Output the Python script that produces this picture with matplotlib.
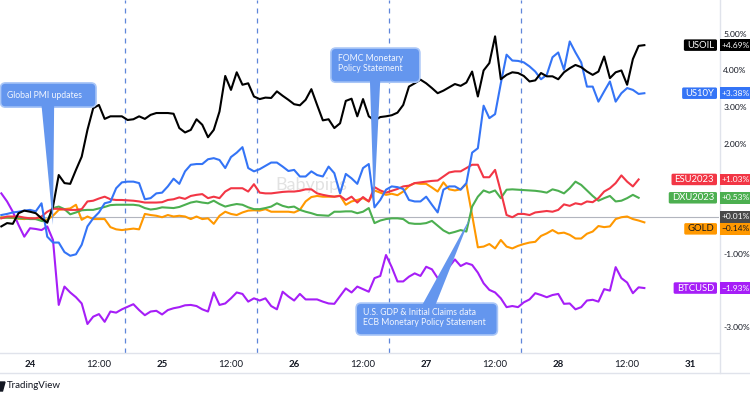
import numpy as np
import matplotlib
matplotlib.use("Agg")
import matplotlib.pyplot as plt
from matplotlib.patches import FancyBboxPatch, Polygon, Rectangle
from matplotlib.transforms import IdentityTransform
from matplotlib.lines import Line2D

plt.rcParams['font.family'] = ['Lato', 'DejaVu Sans']

# ---------------- data ----------------
# hourly bar index (0 = Jul 24 00:00, 23 bars per trading day)
bars = list(range(-5, 108))

usoil = [-0.25, -0.16, -0.18, 0.11, 0.18, 0.15, 0.11, -0.03, -0.15, 0.29,
         1.15, 0.93, 0.91, 1.29, 1.65, 2.38, 2.97, 3.06, 2.68, 2.75,
         2.75, 2.75, 2.65, 2.67, 2.75, 2.68, 2.79, 2.84, 2.84, 2.84,
         2.82, 2.43, 2.31, 2.38, 2.67, 2.52, 2.18, 2.38, 2.88, 3.85,
         3.47, 3.95, 3.61, 3.65, 3.29, 3.22, 3.26, 3.25, 3.43, 3.31,
         3.20, 3.08, 3.05, 3.20, 3.49, 3.06, 2.64, 2.67, 2.43, 2.56,
         3.17, 3.23, 2.75, 3.22, 2.75, 2.64, 2.73, 2.75, 2.78, 2.85,
         3.06, 3.56, 3.65, 3.75, 3.65, 3.52, 3.38, 3.45, 3.54, 3.63,
         3.58, 3.67, 3.97, 3.29, 4.00, 4.20, 4.93, 3.76, 3.88, 3.95,
         3.93, 3.85, 3.70, 3.73, 3.93, 3.84, 3.84, 3.76, 3.95, 4.06,
         4.15, 4.09, 3.97, 3.88, 3.97, 4.38, 3.79, 3.95, 4.00, 3.61,
         4.31, 4.67, 4.69]

us10y = [0.06, 0.09, 0.13, 0.15, 0.18, 0.20, 0.16, 0.38, -0.53, -0.69,
         -0.69, -0.95, -1.05, -1.01, -0.75, -0.25, -0.03, 0.13, 0.38, 0.42,
         0.79, 0.95, 0.97, 0.97, 0.93, 0.49, 0.52, 0.65, 0.67, 0.84,
         1.05, 0.91, 1.25, 1.43, 1.45, 1.45, 1.58, 1.61, 1.56, 1.34,
         1.64, 1.76, 1.91, 1.34, 1.25, 1.31, 1.40, 1.49, 1.49, 1.38,
         1.26, 1.29, 1.11, 1.11, 1.25, 1.15, 1.11, 1.38, 1.20, 0.65,
         1.18, 1.06, 0.91, 1.34, 1.45, 0.27, 0.47, 0.75, 0.84, 0.82,
         0.77, 0.47, 0.43, 0.43, 0.56, 0.34, 0.13, 0.75, 0.84, 0.84,
         0.75, 0.93, 1.76, 1.88, 3.04, 2.70, 2.81, 3.65, 4.43, 4.27,
         4.26, 4.22, 4.11, 3.97, 3.76, 3.88, 4.36, 4.49, 4.02, 4.79,
         4.49, 4.22, 3.56, 3.56, 3.15, 3.43, 3.70, 3.15, 3.38, 3.52,
         3.47, 3.36, 3.38]

esu2023 = [-0.03, 0.02, 0.02, 0.02, -0.01, -0.03, -0.03, 0.02, 0.15, 0.23,
           0.23, 0.21, 0.20, 0.20, 0.22, 0.43, 0.45, 0.51, 0.56, 0.49,
           0.47, 0.47, 0.46, 0.45, 0.43, 0.40, 0.40, 0.40, 0.41, 0.47,
           0.49, 0.54, 0.50, 0.58, 0.61, 0.63, 0.52, 0.56, 0.52, 0.70,
           0.79, 0.79, 0.79, 0.70, 0.90, 0.67, 0.65, 0.65, 0.67, 0.69,
           0.70, 0.70, 0.72, 0.76, 0.76, 0.65, 0.61, 0.58, 0.56, 0.58,
           0.47, 0.56, 0.40, 0.55, 0.43, 0.82, 0.73, 0.67, 0.72, 0.77,
           0.84, 0.86, 0.93, 0.95, 0.97, 0.99, 1.00, 1.11, 1.22, 1.25,
           1.25, 1.34, 1.43, 1.43, 1.09, 1.09, 1.29, 0.70, 0.06, 0.00,
           0.09, 0.09, 0.06, 0.13, 0.15, 0.17, 0.15, 0.20, 0.35, 0.31,
           0.38, 0.35, 0.43, 0.41, 0.52, 0.70, 0.79, 0.93, 1.14, 0.97,
           0.84, 1.03, np.nan]

dxu2023 = [-0.02, -0.01, -0.01, -0.03, -0.03, -0.05, -0.05, -0.10, -0.12, 0.25,
           0.29, 0.22, 0.08, 0.13, 0.19, 0.20, 0.20, 0.24, 0.28, 0.33,
           0.34, 0.34, 0.34, 0.34, 0.32, 0.25, 0.21, 0.23, 0.27, 0.26,
           0.25, 0.28, 0.34, 0.40, 0.43, 0.40, 0.38, 0.45, 0.36, 0.29,
           0.33, 0.36, 0.34, 0.27, 0.22, 0.22, 0.25, 0.29, 0.38, 0.31,
           0.27, 0.29, 0.20, 0.15, 0.11, 0.06, 0.05, 0.04, 0.15, 0.15,
           0.16, 0.16, 0.11, 0.15, 0.25, -0.16, -0.09, -0.05, -0.03, -0.03,
           -0.05, -0.16, -0.18, -0.18, -0.16, -0.10, -0.23, -0.36, -0.44, -0.40,
           -0.35, -0.39, 0.29, 0.56, 0.73, 0.67, 0.73, 0.52, 0.75, 0.76,
           0.75, 0.74, 0.73, 0.72, 0.70, 0.67, 0.76, 0.72, 0.65, 0.79,
           0.97, 0.88, 0.73, 0.58, 0.45, 0.52, 0.58, 0.43, 0.45, 0.52,
           0.61, 0.53, np.nan]

gold = [0.00, -0.01, -0.02, -0.04, -0.05, -0.03, -0.05, -0.05, -0.07, 0.04,
        0.20, 0.22, 0.24, 0.34, -0.07, 0.02, -0.05, -0.05, -0.05, -0.27,
        -0.33, -0.35, -0.33, -0.31, -0.33, 0.09, 0.06, 0.04, 0.00, 0.06,
        0.02, 0.04, 0.02, -0.05, 0.02, -0.05, -0.03, -0.18, 0.04, 0.15,
        0.09, 0.06, 0.13, 0.18, 0.19, 0.18, 0.22, 0.15, 0.15, 0.15,
        0.15, 0.13, 0.20, 0.43, 0.55, 0.58, 0.56, 0.56, 0.56, 0.59,
        0.34, 0.43, 0.47, 0.52, 0.43, 0.73, 0.67, 0.61, 0.64, 0.60,
        0.70, 0.85, 0.93, 0.91, 0.91, 0.81, 0.70, 0.95, 0.76, 0.73,
        0.76, 0.91, 0.06, -0.82, -0.80, -0.73, -0.85, -0.62, -0.80, -0.85,
        -0.78, -0.73, -0.69, -0.67, -0.51, -0.44, -0.35, -0.44, -0.42, -0.48,
        -0.58, -0.58, -0.45, -0.39, -0.24, -0.27, -0.25, -0.05, 0.00, 0.02,
        -0.05, -0.09, -0.14]

btcusd = [0.65, 0.43, 0.15, -0.21, -0.53, -0.30, -0.32, -0.35, -0.25, -0.62,
          -2.39, -1.89, -2.05, -2.18, -2.35, -2.91, -2.71, -2.64, -2.85, -2.57,
          -2.60, -2.51, -2.44, -2.37, -2.53, -2.67, -2.57, -2.55, -2.65, -2.53,
          -2.48, -2.45, -2.40, -2.39, -2.42, -2.51, -2.57, -2.05, -2.39, -2.35,
          -2.21, -2.05, -2.09, -2.30, -2.21, -2.27, -2.21, -2.42, -2.51, -2.03,
          -2.16, -2.27, -2.09, -2.24, -2.24, -2.24, -2.30, -2.35, -2.36, -2.15,
          -1.94, -2.05, -1.89, -1.96, -2.03, -1.66, -1.60, -1.03, -1.36, -1.75,
          -1.75, -1.62, -1.53, -1.60, -1.35, -1.42, -1.66, -1.55, -1.35, -1.15,
          -1.33, -1.25, -1.30, -1.51, -1.80, -1.98, -2.05, -2.21, -2.45, -2.42,
          -2.45, -2.32, -2.24, -2.07, -2.12, -2.18, -2.12, -2.09, -2.36, -2.35,
          -2.51, -2.45, -2.27, -2.25, -2.30, -1.96, -2.00, -1.36, -1.66, -1.78,
          -2.07, -1.91, -1.93]

series_names = ["BTCUSD", "GOLD", "DXU2023", "ESU2023", "US10Y", "USOIL"]
series_values = [btcusd, gold, dxu2023, esu2023, us10y, usoil]

tick_bars = [0, 12, 23, 35, 46, 58, 69, 81, 92, 104, 115]
tick_labels = ["24", "12:00", "25", "12:00", "26", "12:00", "27", "12:00", "28", "12:00", "31"]
session_breaks = [16.5, 39.5, 62.5, 85.5]
y_ticks = [5, 4, 3, 2, -1, -3]

# ---------------- style / layout ----------------
colors = {"BTCUSD": "#A61EF7", "GOLD": "#FF9800", "DXU2023": "#4CAF50",
          "ESU2023": "#F23645", "US10Y": "#3474F6", "USOIL": "#000000"}
text_dark = "#131722"
grid_col = "#E0E3EB"
W, H = 750, 399
PLOT_R, PLOT_B = 719, 353

fig = plt.figure(figsize=(W / 100, H / 100), dpi=100)
ax = fig.add_axes([0, (H - PLOT_B) / H, PLOT_R / W, PLOT_B / H])
ax.set_xlim(-5.23, 120.0)
ax.set_ylim(-3.70, 5.92)
for s in ax.spines.values():
    s.set_visible(False)

# session break dashed lines
for sb in session_breaks:
    ax.axvline(sb, color="#5F86DA", lw=0.9, ls=(0, (4, 4)), zorder=1)
# zero line
ax.axhline(0, color="#B2B5BE", lw=0.8, zorder=1)

# watermark
ax.text(49, 0.88, "Babypips", color="#E2E2E2", fontsize=13, ha="center",
        va="center", zorder=0.5)

for name, vals in zip(series_names, series_values):
    ax.plot(bars, vals, color=colors[name], lw=1.5, zorder=3,
            solid_joinstyle="round")

# x axis
ax.set_xticks(tick_bars)
ax.set_xticklabels(tick_labels)
ax.tick_params(axis="x", length=0, pad=5, labelsize=7, labelcolor=text_dark)
for lab, txt in zip(ax.get_xticklabels(), tick_labels):
    if ":" not in txt:
        lab.set_fontweight("bold")

# y axis on the right
ax.yaxis.tick_right()
ax.set_yticks(y_ticks)
ax.set_yticklabels([("-" if v < 0 else "") + f"{abs(v):.2f}%" for v in y_ticks])
ax.tick_params(axis="y", length=0, pad=3.0, labelsize=6.1, labelcolor=text_dark)

# frame lines (time-axis strip, price-axis separator)
fig.add_artist(Line2D([0, PLOT_R], [H - PLOT_B, H - PLOT_B], transform=IdentityTransform(),
                      color=grid_col, lw=1))
fig.add_artist(Line2D([0, W], [H - 373, H - 373], transform=IdentityTransform(),
                      color=grid_col, lw=1))
fig.add_artist(Line2D([PLOT_R + 0.5, PLOT_R + 0.5], [H, H - 373], transform=IdentityTransform(),
                      color=grid_col, lw=1))

# TradingView footer
fig.add_artist(Polygon([[0, H - 391], [2.5, H - 391], [5, H - 382], [0, H - 382]],
                       closed=True, transform=IdentityTransform(), color=text_dark))
fig.text(7 / W, 1 - 386 / H, "TradingView", fontsize=7, color=text_dark,
         ha="left", va="center")

fig.canvas.draw()
to_disp = ax.transData.transform


def callout(box_b, box_v, base_b, tip, text, text_pos, pointer_up=False):
    (x0, y0) = to_disp((box_b[0], box_v[0]))
    (x1, y1) = to_disp((box_b[1], box_v[1]))
    left, right = min(x0, x1), max(x0, x1)
    bot, top = min(y0, y1), max(y0, y1)
    fc = "#6496EE"
    ec = "#A9C6F7"
    box = FancyBboxPatch((left, bot), right - left, top - bot,
                         boxstyle="round,pad=0,rounding_size=5",
                         transform=IdentityTransform(), fc=fc, ec=ec, lw=1.2,
                         zorder=6)
    fig.add_artist(box)
    edge = top if pointer_up else bot
    xb0 = to_disp((base_b[0], 0))[0]
    xb1 = to_disp((base_b[1], 0))[0]
    tx, ty = to_disp(tip)
    inset = -2 if pointer_up else 2
    tri = Polygon([[xb0, edge + inset], [xb1, edge + inset], [tx, ty]], closed=True,
                  transform=IdentityTransform(), fc=fc, ec="none", zorder=7)
    fig.add_artist(tri)
    px, py = to_disp(text_pos)
    fig.text(px / W, py / H, text, fontsize=6.2, color="#F2F6FF", ha="left",
             va="center", linespacing=1.05, zorder=8)


callout((-5.14, 11.5), (3.66, 3.00), (2.0, 4.2), (4.0, -0.21),
        "Global PMI updates", (-4.0, 3.33))
callout((52.4, 67.9), (4.61, 3.68), (59.2, 61.0), (59.9, 0.25),
        "FOMC Monetary\nPolicy Statement", (53.7, 4.19))
callout((56.8, 81.4), (-2.34, -3.21), (68.3, 70.6), (76.7, 0.0),
        "U.S. GDP & Initial Claims data\nECB Monetary Policy Statement", (58.0, -2.73),
        pointer_up=True)

# ---------------- series labels on the price scale ----------------
renderer = fig.canvas.get_renderer()
LABEL_H = 11.5
last_vals = {n: [v for v in vals if not np.isnan(v)][-1]
             for n, vals in zip(series_names, series_values)}


def price_tag(yv, value_text, color, name=None, txt_color="white"):
    yd = to_disp((0, yv))[1]
    # value box on the scale
    fig.add_artist(Rectangle((PLOT_R + 1, yd - LABEL_H / 2), 60, LABEL_H,
                             transform=IdentityTransform(), fc=color, ec="none", zorder=9))
    fig.text((PLOT_R + 2.5) / W, yd / H, value_text, fontsize=6.0, color=txt_color,
             ha="left", va="center", zorder=10)
    if name:
        t = fig.text((PLOT_R - 5) / W, yd / H, name, fontsize=6.8, color=txt_color,
                     ha="right", va="center", zorder=10)
        bb = t.get_window_extent(renderer)
        fig.add_artist(FancyBboxPatch((bb.x0 - 3, yd - LABEL_H / 2), bb.width + 6, LABEL_H,
                                      boxstyle="round,pad=0,rounding_size=1.5",
                                      transform=IdentityTransform(), fc=color, ec="none",
                                      zorder=9))


def fmt(v):
    return ("+" if v >= 0 else "\u2212") + f"{abs(v):.2f}%"


zero_tag_val = 0.01
price_tag(zero_tag_val, fmt(zero_tag_val), "#4A4A4A")
min_gap = (LABEL_H + 0.5) / 36.7
for name in series_names:
    v = last_vals[name]
    ypos = v
    if abs(ypos - zero_tag_val) < min_gap:
        ypos = zero_tag_val - min_gap if ypos < zero_tag_val else zero_tag_val + min_gap
    tc = text_dark if name == "GOLD" else "white"
    price_tag(ypos, fmt(v), colors[name], name, tc)

fig.savefig("out.png", dpi=100)
